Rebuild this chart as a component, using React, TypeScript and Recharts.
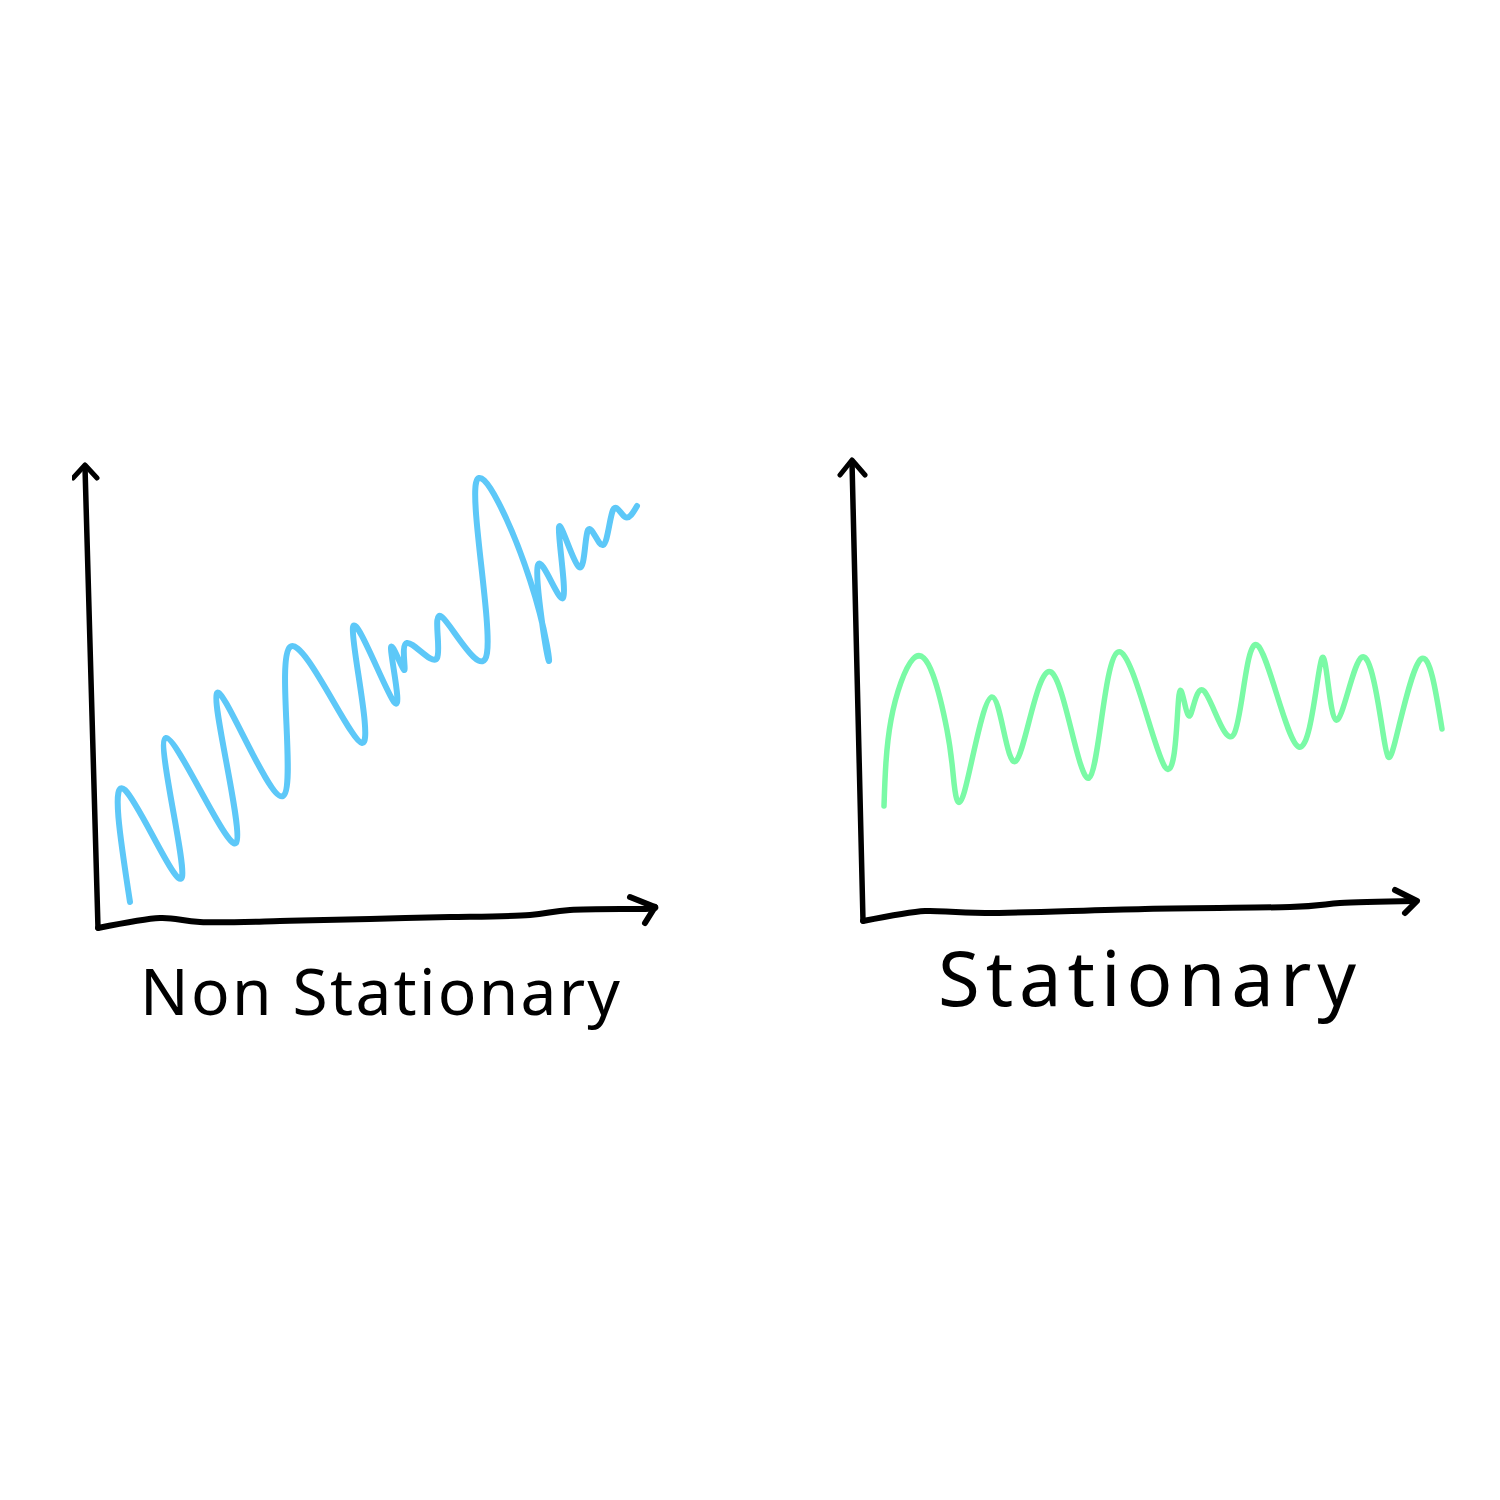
import React from 'react';
import { LineChart, Line, XAxis, YAxis } from 'recharts';

// hand-drawn look: one unit = 5px on both axes, origin at the axis corner
const nonStationary = [
  { x: 6.6, y: 5.2 }, { x: 5.6, y: 27.6 }, { x: 17, y: 10.2 }, { x: 13.8, y: 38 },
  { x: 27.8, y: 17 }, { x: 24, y: 47 }, { x: 37.2, y: 26.4 }, { x: 38.6, y: 56.2 },
  { x: 53, y: 37 }, { x: 51.2, y: 60.2 }, { x: 59.4, y: 45.2 }, { x: 58.8, y: 55.8 },
  { x: 61.4, y: 51.6 }, { x: 62, y: 57 }, { x: 68, y: 54 }, { x: 69, y: 62.2 },
  { x: 78, y: 55 }, { x: 75.8, y: 89 }, { x: 86.6, y: 69.6 }, { x: 90.2, y: 54 },
  { x: 88.2, y: 72.6 }, { x: 93.2, y: 66 }, { x: 92.4, y: 80.2 }, { x: 96.4, y: 72.2 },
  { x: 98.2, y: 79.6 }, { x: 101.2, y: 76.6 }, { x: 103.2, y: 83.6 }, { x: 105.6, y: 82.2 },
  { x: 108, y: 84.4 },
];

const stationary = [
  { x: 4.4, y: 22.8 }, { x: 5.8, y: 40 }, { x: 10.2, y: 52.2 }, { x: 14.2, y: 49 },
  { x: 17, y: 38 }, { x: 18.2, y: 29.4 },
  { x: 20.4, y: 25.4 }, { x: 26, y: 44.6 }, { x: 30.8, y: 31.8 }, { x: 37.8, y: 49.6 },
  { x: 45.4, y: 28.4 }, { x: 51.2, y: 53.6 }, { x: 60.6, y: 30.6 }, { x: 63.4, y: 45 },
  { x: 65.4, y: 40.8 }, { x: 68.4, y: 45.8 }, { x: 74.4, y: 37.2 }, { x: 79, y: 55 },
  { x: 87.4, y: 34.6 }, { x: 92, y: 52.4 }, { x: 94.8, y: 40 }, { x: 100, y: 52.6 },
  { x: 104.2, y: 37.4 }, { x: 106.6, y: 35.6 }, { x: 111.8, y: 52.2 }, { x: 116, y: 38.2 },
];

// sketched axes
const leftYAxis = [{ x: 0.2, y: 0 }, { x: -2.4, y: 92.2 }];
const leftYArrow = [{ x: -4.8, y: 90 }, { x: -2.4, y: 92.6 }, { x: 0, y: 90 }];
const leftXAxis = [
  { x: 0.2, y: 0 }, { x: 12.6, y: 2 }, { x: 20.6, y: 1.2 }, { x: 36.6, y: 1.4 },
  { x: 54.6, y: 1.8 }, { x: 70.6, y: 2.2 }, { x: 86.6, y: 2.6 }, { x: 94.6, y: 3.6 },
  { x: 108.6, y: 3.8 }, { x: 111.6, y: 4.2 },
];
const leftXArrow = [{ x: 106.6, y: 6.2 }, { x: 111.6, y: 4.2 }, { x: 109.6, y: 1 }];

const rightYAxis = [{ x: 0.2, y: -0.2 }, { x: -2, y: 91.6 }];
const rightYArrow = [{ x: -4.4, y: 89 }, { x: -2, y: 92 }, { x: 0.6, y: 89 }];
const rightXAxis = [
  { x: 0.2, y: -0.2 }, { x: 12.6, y: 1.8 }, { x: 24.6, y: 1.4 }, { x: 56.6, y: 2.2 },
  { x: 85.6, y: 2.6 }, { x: 95.6, y: 3.4 }, { x: 110.6, y: 3.8 },
];
const rightXArrow = [{ x: 106.6, y: 6 }, { x: 111, y: 3.8 }, { x: 108.6, y: 1.4 }];

const xDomain = [-5, 117];
const yDomain = [-5, 95];

const ink = '#000';

interface SketchProps {
  series: { x: number; y: number }[];
  color: string;
  width: number;
  axisX: { x: number; y: number }[];
  axisY: { x: number; y: number }[];
  arrowX: { x: number; y: number }[];
  arrowY: { x: number; y: number }[];
}

const Sketch: React.FC<SketchProps> = ({ series, color, width, axisX, axisY, arrowX, arrowY }) => {
  const common = { dot: false, activeDot: false, isAnimationActive: false, strokeLinecap: 'round' as const, strokeLinejoin: 'round' as const, dataKey: 'y' };
  return (
    <LineChart width={610} height={500} margin={{ top: 0, right: 0, bottom: 0, left: 0 }}>
      <XAxis type="number" dataKey="x" domain={xDomain} hide allowDataOverflow />
      <YAxis type="number" dataKey="y" domain={yDomain} hide allowDataOverflow />
      <Line {...common} data={axisY} type="linear" stroke={ink} strokeWidth={5.5} />
      <Line {...common} data={arrowY} type="linear" stroke={ink} strokeWidth={5} />
      <Line {...common} data={axisX} type="natural" stroke={ink} strokeWidth={6} />
      <Line {...common} data={arrowX} type="linear" stroke={ink} strokeWidth={6} />
      <Line {...common} data={series} type="natural" stroke={color} strokeWidth={width} />
    </LineChart>
  );
};

export default function App() {
  return (
    <div style={{ position: 'absolute', left: 0, top: 0, width: 1500, height: 1500, background: '#fff' }}>
      <div style={{ position: 'absolute', left: 72, top: 453 }}>
        <Sketch series={nonStationary} color="#5DC8F8" width={6}
          axisX={leftXAxis} axisY={leftYAxis} arrowX={leftXArrow} arrowY={leftYArrow} />
      </div>
      <div style={{ position: 'absolute', left: 837, top: 445 }}>
        <Sketch series={stationary} color="#7AFAA6" width={5.5}
          axisX={rightXAxis} axisY={rightYAxis} arrowX={rightXArrow} arrowY={rightYArrow} />
      </div>
      <svg width={1500} height={1500} style={{ position: 'absolute', left: 0, top: 0, pointerEvents: 'none' }}>
        <text x={140} y={1015} fontFamily="'Noto Sans', sans-serif" fontSize={64} fill={ink}
          textLength={480} lengthAdjust="spacing">Non Stationary</text>
        <text x={938} y={1006} fontFamily="'Noto Sans', sans-serif" fontSize={76} fill={ink}
          textLength={418} lengthAdjust="spacing">Stationary</text>
      </svg>
    </div>
  );
}
